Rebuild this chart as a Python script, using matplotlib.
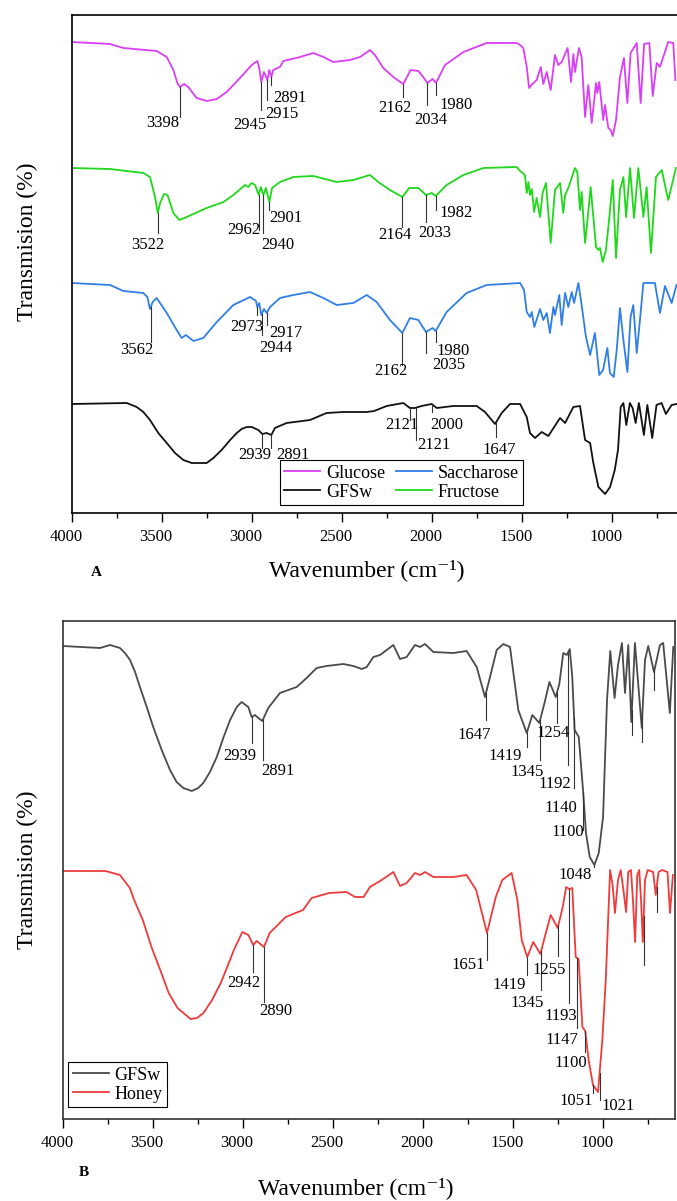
import matplotlib
matplotlib.use("Agg")
import matplotlib.pyplot as plt
import numpy as np
from matplotlib.transforms import ScaledTranslation

plt.rcParams["font.family"] = ["Liberation Serif", "DejaVu Serif"]
plt.rcParams["mathtext.fontset"] = "stix"

# ---------------- Panel A: reference sugars + GFSw (offset spectra, a.u.) ----
glucose_wn = [4000, 3787, 3713, 3528, 3472, 3435, 3413, 3398, 3376, 3352, 3306, 3250,
              3194, 3139, 3065, 3000, 2969, 2958, 2947, 2932, 2913, 2902, 2891, 2880,
              2843, 2824, 2731, 2658, 2602, 2547, 2454, 2398, 2343, 2315, 2269, 2213,
              2158, 2117, 2074, 2047, 2024, 1995, 1976, 1926, 1824, 1695, 1528, 1509,
              1491, 1472, 1459, 1446, 1417, 1394, 1380, 1361, 1339, 1315, 1297, 1278,
              1245, 1226, 1213, 1204, 1182, 1167, 1148, 1130, 1111, 1087, 1080, 1069,
              1047, 1037, 1019, 1006, 994, 976, 954, 932, 913, 895, 861, 839, 820, 791,
              772, 750, 732, 686, 658, 646]
glucose_t = [471, 469, 465, 462, 456, 443, 430, 426, 429, 426, 415, 412,
             414, 421, 435, 448, 452, 445, 431, 441, 433, 443, 436, 443,
             446, 452, 456, 460, 456, 451, 453, 456, 463, 458, 445, 436,
             429, 443, 442, 436, 430, 434, 430, 448, 461, 470, 470, 468,
             465, 446, 425, 428, 433, 446, 429, 441, 423, 458, 448, 451,
             465, 431, 459, 441, 465, 456, 396, 428, 390, 430, 420, 431,
             393, 408, 385, 383, 377, 393, 436, 455, 410, 460, 470, 410, 469, 470,
             417, 450, 446, 471, 470, 433]

fructose_wn = [4000, 3787, 3602, 3565, 3537, 3522, 3509, 3487, 3468, 3435, 3402, 3361,
               3250, 3157, 3102, 3037, 3019, 3000, 2981, 2961, 2950, 2935, 2921, 2902,
               2887, 2843, 2769, 2658, 2528, 2435, 2343, 2297, 2232, 2163, 2125, 2074,
               2032, 2000, 1978, 1917, 1824, 1713, 1528, 1509, 1482, 1472, 1463, 1454,
               1444, 1431, 1417, 1398, 1384, 1365, 1339, 1315, 1287, 1269, 1259, 1241,
               1204, 1191, 1176, 1167, 1148, 1139, 1117, 1102, 1087, 1074, 1065, 1050,
               1032, 1013, 994, 976, 954, 935, 920, 898, 876, 852, 824, 806, 782, 754,
               722, 686, 643]
fructose_t = [345, 344, 340, 336, 316, 300, 310, 319, 318, 300, 293, 296,
              305, 311, 318, 328, 326, 330, 328, 318, 326, 318, 325, 311,
              325, 331, 336, 337, 331, 333, 338, 331, 323, 316, 325, 325,
              318, 320, 317, 328, 338, 345, 346, 342, 338, 320, 331, 318,
              324, 301, 315, 296, 320, 330, 270, 323, 330, 300, 318, 325,
              345, 341, 303, 321, 270, 285, 326, 296, 266, 263, 265, 251,
              263, 296, 333, 255, 323, 336, 296, 345, 295, 345, 296, 326, 260, 336,
              343, 313, 345]

saccharose_wn = [4000, 3787, 3713, 3602, 3580, 3565, 3550, 3528, 3472, 3417, 3389, 3365,
                 3324, 3269, 3194, 3102, 3009, 2976, 2969, 2958, 2947, 2932, 2917, 2898,
                 2843, 2769, 2676, 2602, 2528, 2435, 2361, 2306, 2232, 2163, 2121, 2074,
                 2032, 1995, 1978, 1917, 1806, 1695, 1509, 1487, 1472, 1454, 1444, 1430,
                 1398, 1380, 1361, 1343, 1324, 1315, 1291, 1278, 1259, 1241, 1222, 1209,
                 1185, 1167, 1143, 1120, 1093, 1069, 1048, 1024, 1010, 989, 972, 954,
                 935, 913, 895, 880, 861, 843, 824, 760, 732, 704, 667, 640]
saccharose_t = [230, 228, 222, 220, 216, 204, 211, 215, 200, 183, 175, 178,
                172, 175, 191, 208, 216, 212, 206, 210, 198, 204, 200, 206,
                215, 218, 221, 215, 208, 210, 218, 211, 193, 180, 195, 193,
                181, 185, 182, 201, 220, 228, 230, 223, 201, 196, 201, 186,
                204, 193, 200, 180, 206, 198, 218, 188, 220, 206, 221, 210,
                230, 208, 176, 158, 180, 138, 143, 165, 140, 136, 163, 205,
                173, 141, 196, 208, 160, 193, 230, 230, 200, 227, 210, 228]

gfsw_a_wn = [4000, 3694, 3639, 3602, 3565, 3519, 3472, 3426, 3380, 3333, 3287, 3250,
             3213, 3167, 3120, 3083, 3056, 3028, 3000, 2963,
             2941, 2917, 2891, 2871, 2806, 2676, 2584, 2491, 2361, 2320, 2250, 2158,
             2121, 2093, 2056, 2000, 1972, 1880, 1750, 1704, 1648, 1611, 1565, 1509,
             1472, 1454, 1426, 1389, 1352, 1287, 1259, 1213, 1176, 1148, 1120, 1102,
             1074, 1037, 1009, 983, 965, 950, 935, 919, 899, 884, 867, 849, 821, 802,
             775, 751, 723, 699, 667, 640]
gfsw_a_t = [109, 110, 106, 101, 93, 80, 70, 60, 53, 50, 50, 50,
            55, 63, 73, 80, 84, 86, 86, 83,
            79, 80, 78, 85, 90, 93, 100, 101, 101, 102, 107, 110,
            105, 105, 107, 109, 105, 107, 107, 101, 89, 100, 109, 109,
            96, 80, 75, 81, 77, 95, 90, 106, 107, 73, 70, 50,
            26, 19, 26, 43, 63, 106, 110, 88, 110, 105, 90, 110, 78, 108,
            75, 108, 110, 99, 108, 109]

# ---------------- Panel B: GFSw vs honey ------------------------------------
gfsw_b_wn = [4000, 3793, 3737, 3682, 3654, 3626, 3598, 3571, 3533, 3497, 3450, 3404,
             3367, 3330, 3283, 3247, 3219, 3182, 3144, 3108,
             3070, 3033, 3006, 2969, 2950, 2932, 2913, 2891, 2858, 2793, 2700, 2645, 2589,
             2534, 2441, 2385, 2339, 2311, 2274, 2237, 2163, 2126, 2089, 2043, 2015,
             1987, 1941, 1830, 1756, 1700, 1654, 1626, 1589, 1552, 1515, 1469, 1422,
             1391, 1352, 1322, 1296, 1261, 1241, 1219, 1200, 1183, 1169, 1156, 1133,
             1108, 1093, 1072, 1046, 1022, 998, 976, 958, 934, 915, 893, 876, 858,
             841, 821, 783, 765, 747, 715, 682, 664, 627, 608]
gfsw_b_t = [473, 471, 474, 471, 466, 459, 447, 432, 412, 392, 369, 349,
            337, 331, 328, 331, 336, 347, 362, 381,
            399, 412, 417, 412, 402, 404, 401, 398, 411, 426, 432, 441, 451,
            453, 455, 453, 450, 452, 462, 464, 474, 460, 462, 474, 472,
            475, 467, 466, 468, 452, 422, 442, 469, 475, 472, 409, 386,
            404, 396, 417, 437, 422, 435, 466, 464, 470, 442, 389, 382,
            326, 286, 262, 254, 266, 302, 419, 468, 421, 454, 476, 426, 474,
            397, 476, 391, 459, 473, 447, 474, 476, 406, 472]

honey_wn = [4000, 3762, 3682, 3627, 3603, 3555, 3507, 3458, 3411, 3362, 3290, 3254,
            3218, 3170, 3122, 3086, 3049,
            3002, 2968, 2942, 2922, 2882, 2850, 2761, 2665, 2617, 2520, 2424, 2376,
            2328, 2293, 2228, 2163, 2126, 2089, 2043, 2015, 1987, 1941, 1830, 1756,
            1703, 1643, 1594, 1558, 1506, 1474, 1450, 1419, 1386, 1346, 1322, 1289,
            1250, 1222, 1203, 1186, 1169, 1150, 1134, 1113, 1097, 1078, 1054, 1026,
            1002, 983, 959, 945, 932, 915, 900, 885, 870, 858, 843, 832, 820, 808,
            797, 787, 777, 765, 750, 720, 705, 690, 670, 640, 626, 610]
honey_t = [248, 248, 244, 231, 219, 199, 172, 149, 126, 111, 100, 101,
           106, 119, 136, 152, 169,
           187, 184, 174, 178, 172, 186, 202, 209, 221, 226, 227, 222,
           222, 232, 239, 247, 233, 236, 246, 244, 247, 242, 242, 244,
           229, 186, 222, 239, 246, 219, 179, 162, 177, 165, 182, 204,
           191, 212, 232, 230, 231, 162, 160, 92, 88, 59, 34, 27,
           79, 139, 249, 234, 206, 239, 249, 229, 207, 247, 249, 219, 177, 244,
           249, 219, 177, 239, 249, 247, 224, 247, 249, 247, 206, 244]

# peak labels: (text, line wavenumber, line end, text wavenumber, text top)
glucose_peaks = [("3398", 3398, 396, 3494, 398), ("2945", 2947, 403, 3010, 396),
                 ("2915", 2913, 413, 2832, 407), ("2891", 2891, 428, 2789, 423),
                 ("2162", 2158, 416, 2204, 413), ("2034", 2024, 408, 2003, 401),
                 ("1980", 1976, 418, 1865, 416)]
fructose_peaks = [("3522", 3522, 280, 3576, 276), ("2962", 2961, 283, 3046, 291),
                  ("2940", 2935, 280, 2857, 276), ("2901", 2902, 303, 2808, 303),
                  ("2164", 2163, 286, 2203, 286), ("2033", 2032, 291, 1984, 288),
                  ("1982", 1978, 303, 1865, 308)]
saccharose_peaks = [("3562", 3561, 171, 3640, 171), ("2973", 2969, 198, 3029, 194),
                    ("2944", 2944, 178, 2863, 173), ("2917", 2917, 188, 2812, 188),
                    ("2162", 2163, 148, 2229, 150), ("2035", 2032, 160, 1906, 156),
                    ("1980", 1978, 171, 1880, 170)]
gfsw_a_peaks = [("2939", 2941, 65, 2983, 66), ("2891", 2891, 65, 2769, 66),
                ("2121", 2121, 93, 2168, 96), ("2121", 2089, 73, 1987, 76),
                ("2000", 2000, 101, 1917, 96), ("1647", 1644, 76, 1627, 71)]
gfsw_b_peaks = [("2939", 2950, 376, 3016, 371), ("2891", 2889, 359, 2807, 356),
                ("1647", 1648, 399, 1712, 392), ("1419", 1422, 372, 1540, 371),
                ("1345", 1348, 359, 1418, 355), ("1254", 1255, 396, 1274, 394),
                ("1192", 1194, 354, 1265, 343), ("1140", 1159, 331, 1231, 319),
                ("1100", 1108, 289, 1194, 295), ("1048", 1046, 252, 1154, 252),
                ("", 838, 384, 838, 384), ("", 780, 377, 780, 377),
                ("", 713, 429, 713, 429)]
honey_peaks = [("2942", 2942, 147, 2993, 144), ("2890", 2882, 117, 2815, 116),
               ("1651", 1643, 159, 1745, 162), ("1419", 1419, 144, 1518, 142),
               ("1345", 1342, 129, 1421, 124), ("1255", 1246, 163, 1298, 157),
               ("1193", 1186, 116, 1232, 111), ("1147", 1143, 91, 1224, 87),
               ("1100", 1097, 67, 1176, 64), ("1051", 1054, 26, 1149, 26),
               ("1021", 1017, 19, 914, 21), ("", 772, 154, 772, 154),
               ("", 700, 207, 700, 207)]

xticks = [4000, 3500, 3000, 2500, 2000, 1500, 1000]
xminor = [3750, 3250, 2750, 2250, 1750, 1250, 750]

W, H = 677, 1201
fig = plt.figure(figsize=(W / 100, H / 100), dpi=100)
axA = fig.add_axes([71.7 / W, 1 - 513 / H, 612 / W, 498 / H])
axB = fig.add_axes([62.7 / W, 1 - 1119 / H, 612 / W, 498 / H])


def spectrum(ax, wn, t, color, label):
    line, = ax.plot(wn, t, color=color, lw=1.3, label=label)
    return line


def mark_peaks(ax, wn, t, peaks):
    xs = np.asarray(wn, float)[::-1]
    ys = np.asarray(t, float)[::-1]
    for text, x_line, y_end, x_text, y_text in peaks:
        y0 = np.interp(x_line, xs, ys)
        ax.plot([x_line, x_line], [y0, y_end], color="0.2", lw=0.8)
        if text:
            ax.text(x_text, y_text, text, ha="center", va="top", fontsize=12)


def style_axes(ax, spine_color):
    ax.set_xlim(4000, 600)
    ax.set_ylim(0, 498)
    ax.set_yticks([])
    ax.set_xticks(xticks)
    ax.set_xticks(xminor, minor=True)
    ax.set_xticklabels([str(v) for v in xticks])
    ax.tick_params(axis="x", which="major", direction="out", length=6.5,
                   width=1.0, pad=5, labelsize=12)
    ax.tick_params(axis="x", which="minor", direction="out", length=3.6, width=1.0)
    for s in ax.spines.values():
        s.set_color(spine_color)
        s.set_linewidth(1.2)


# ---- Panel A ----
hG = spectrum(axA, glucose_wn, glucose_t, "#DA3EF5", "Glucose")
hF = spectrum(axA, fructose_wn, fructose_t, "#1FD81A", "Fructose")
hS = spectrum(axA, saccharose_wn, saccharose_t, "#2F7FE6", "Saccharose")
hW = spectrum(axA, gfsw_a_wn, gfsw_a_t, "#111111", "GFSw")
mark_peaks(axA, glucose_wn, glucose_t, glucose_peaks)
mark_peaks(axA, fructose_wn, fructose_t, fructose_peaks)
mark_peaks(axA, saccharose_wn, saccharose_t, saccharose_peaks)
mark_peaks(axA, gfsw_a_wn, gfsw_a_t, gfsw_a_peaks)
style_axes(axA, "black")
axA.legend([hG, hW, hS, hF], ["Glucose", "GFSw", "Saccharose", "Fructose"],
           ncol=2, loc="lower left", bbox_to_anchor=(0.340, 0.016),
           fontsize=13, handlelength=2.0, handletextpad=0.3, columnspacing=0.6,
           labelspacing=0.1, borderpad=0.25, borderaxespad=0, fancybox=False,
           edgecolor="black", framealpha=1).get_frame().set_linewidth(0.8)
axA.set_xlabel("Wavenumber (cm⁻¹)", fontsize=17)
axA.xaxis.set_label_coords(0.4825, -0.093)
axA.set_ylabel("Transmision (%)", fontsize=17)
axA.yaxis.set_label_coords(-0.0546, 0.545)
fig.text(96.7 / W, 1 - 572 / H, "A", fontsize=11, fontweight="bold",
         ha="center", va="center")

# ---- Panel B ----
hW2 = spectrum(axB, gfsw_b_wn, gfsw_b_t, "#4A4A4A", "GFSw")
hH = spectrum(axB, honey_wn, honey_t, "#EE3B3B", "Honey")
mark_peaks(axB, gfsw_b_wn, gfsw_b_t, gfsw_b_peaks)
mark_peaks(axB, honey_wn, honey_t, honey_peaks)
style_axes(axB, "#333333")
axB.legend([hW2, hH], ["GFSw", "Honey"], loc="lower left",
           bbox_to_anchor=(0.0087, 0.024), fontsize=13, handlelength=2.0,
           handletextpad=0.3, labelspacing=0.1, borderpad=0.25, borderaxespad=0,
           fancybox=False, edgecolor="black", framealpha=1).get_frame().set_linewidth(0.8)
axB.set_xlabel("Wavenumber (cm⁻¹)", fontsize=17)
axB.xaxis.set_label_coords(0.479, -0.117)
axB.set_ylabel("Transmision (%)", fontsize=17)
axB.yaxis.set_label_coords(-0.04, 0.5)
fig.text(83.5 / W, 1 - 1173 / H, "B", fontsize=11, fontweight="bold",
         ha="center", va="center")

# the original tick labels sit a few pixels left of their ticks
fig.canvas.draw()
shift = ScaledTranslation(-0.06, 0, fig.dpi_scale_trans)
for ax in (axA, axB):
    for tick in ax.xaxis.get_major_ticks():
        tick.label1.set_transform(tick.label1.get_transform() + shift)

fig.savefig("out.png", dpi=100)
